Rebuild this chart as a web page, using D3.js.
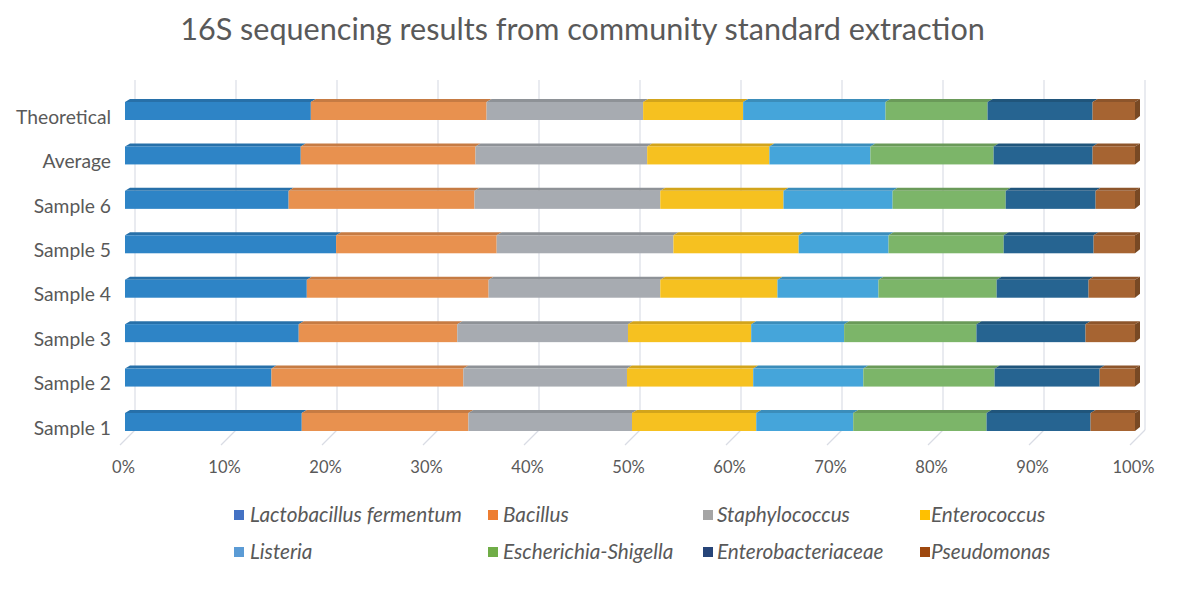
<!DOCTYPE html>
<html><head><meta charset="utf-8">
<script src="https://cdn.jsdelivr.net/npm/d3@7"></script>
<style>body{margin:0;background:#fff} svg{display:block}</style>
</head><body>
<svg id="c" width="1189" height="599"></svg>
<script>
// ---- data ----
const categories = ["Sample 1","Sample 2","Sample 3","Sample 4","Sample 5","Sample 6","Average","Theoretical"];
const seriesNames = ["Lactobacillus fermentum","Bacillus","Staphylococcus","Enterococcus","Listeria","Escherichia-Shigella","Enterobacteriaceae","Pseudomonas"];
const lactobacillus      = [17.5,14.5,17.2,18.0,20.9,16.2,17.4,18.4];
const bacillus           = [16.5,19.0,15.7,18.0,15.9,18.4,17.3,17.4];
const staphylococcus     = [16.2,16.2,16.9,17.0,17.5,18.4,17.0,15.5];
const enterococcus       = [12.3,12.5,12.2,11.6,12.4,12.2,12.1, 9.9];
const listeria           = [ 9.6,10.9, 9.2,10.0, 8.9,10.8,10.0,14.1];
const escherichia        = [13.2,13.0,13.1,11.7,11.4,11.2,12.2,10.1];
const enterobacteriaceae = [10.3,10.4,10.8, 9.1, 8.9, 8.9, 9.8,10.4];
const pseudomonas        = [ 4.4, 3.5, 4.9, 4.6, 4.1, 3.9, 4.2, 4.2];
const tickValues = [0,10,20,30,40,50,60,70,80,90,100];
const tickLabels = ["0%","10%","20%","30%","40%","50%","60%","70%","80%","90%","100%"];
const title = "16S sequencing results from community standard extraction";

// ---- styles ----
const barColors    = ["#2e84c6","#e8914f","#a7abb1","#f6c120","#45a5da","#7cb569","#266491","#a66432"];
const legendColors = ["#4472c4","#ed7d31","#a5a5a5","#ffc000","#5b9bd5","#70ad47","#264478","#9e480e"];
const textColor = "#595959";
const FONT = "Lato, 'Open Sans', sans-serif";

const seriesValues = [lactobacillus,bacillus,staphylococcus,enterococcus,listeria,escherichia,enterobacteriaceae,pseudomonas];
const rows = categories.map((c,i)=>{
  const r = {cat:c};
  seriesNames.forEach((s,j)=>{ r[s] = seriesValues[j][i]; });
  return r;
});

const svg = d3.select("#c");
svg.append("rect").attr("width",1189).attr("height",599).attr("fill","#fff");

const x = d3.scaleLinear().domain([0,100]).range([125,1135]);
const y = d3.scalePoint().domain(categories.slice().reverse()).range([109.5,420.5]);
const DX = 10, DEPTH_TOP = 80, FLOOR_BACK = 430, FLOOR_FRONT = 445;

function fit(sel, target){
  const node = sel.node();
  const fs = parseFloat(sel.attr("font-size"));
  const w = node.getComputedTextLength();
  return fs*target/w;
}

// back-wall gridlines + floor diagonals
const grid = svg.append("g");
grid.selectAll("line.v").data(tickValues).join("line").attr("class","v")
  .attr("x1",d=>x(d)+DX).attr("x2",d=>x(d)+DX)
  .attr("y1",DEPTH_TOP).attr("y2",FLOOR_BACK)
  .attr("stroke","#e2e4eb").attr("stroke-width",1.5);
grid.selectAll("line.d").data(tickValues).join("line").attr("class","d")
  .attr("x1",d=>x(d)-5).attr("y1",FLOOR_FRONT)
  .attr("x2",d=>x(d)+DX).attr("y2",FLOOR_BACK)
  .attr("stroke","#d9dce4").attr("stroke-width",1.2);

// stacked bars
const stack = d3.stack().keys(seriesNames)(rows);
const FH = 18, TH = 3, TD = 5;
const barsG = svg.append("g");
stack.forEach((layer,j)=>{
  const col = barColors[j];
  const g = barsG.append("g");
  const top = d3.color(col).darker(0.45).formatHex();
  g.selectAll("path.top").data(layer).join("path").attr("class","top")
    .attr("d",d=>{
      const yf = y(d.data.cat)-7.5, x0=x(d[0]), x1=x(d[1]);
      return `M${x0},${yf}L${x0+TD},${yf-TH}L${x1+TD},${yf-TH}L${x1},${yf}Z`;
    }).attr("fill",top);
  g.selectAll("rect").data(layer).join("rect")
    .attr("x",d=>x(d[0])).attr("y",d=>y(d.data.cat)-7.5)
    .attr("width",d=>x(d[1])-x(d[0])).attr("height",FH)
    .attr("fill",col);
  if(j===stack.length-1){
    const side = d3.color(col).darker(0.9).formatHex();
    g.selectAll("path.side").data(layer).join("path").attr("class","side")
      .attr("d",d=>{
        const yf = y(d.data.cat)-7.5, x1=x(d[1]);
        return `M${x1},${yf}L${x1+TD},${yf-TH}L${x1+TD},${yf+FH-TH-1}L${x1},${yf+FH}Z`;
      }).attr("fill",side);
  }
});

// x axis labels
const xa = svg.append("g").attr("transform","translate(-2,467)")
  .call(d3.axisBottom(x).tickValues(tickValues).tickSize(0).tickFormat((d,i)=>tickLabels[i]));
xa.select(".domain").remove();
xa.selectAll("text").attr("y",0).attr("dy","0.35em")
  .attr("fill",textColor).attr("font-family",FONT).attr("font-size",16);
{
  const last = xa.selectAll("text").filter((d,i)=>i===tickValues.length-1);
  xa.selectAll("text").attr("font-size",fit(last,42));
}

// y axis labels
const ya = svg.append("g").attr("transform","translate(111,7)")
  .call(d3.axisLeft(y).tickSize(0).tickPadding(0));
ya.select(".domain").remove();
ya.selectAll("text").attr("dy","0.35em").attr("x",0)
  .attr("fill",textColor).attr("font-family",FONT).attr("font-size",17);
{
  const t = ya.selectAll("text").filter(d=>d==="Theoretical");
  ya.selectAll("text").attr("font-size",fit(t,95));
}

// title
const tt = svg.append("text").attr("x",582.5).attr("y",40).attr("text-anchor","middle")
  .attr("fill",textColor).attr("font-family",FONT).attr("font-size",28).text(title);
tt.attr("font-size",fit(tt,805));

// legend
const colSq = [234,488,703,920], colTx = [250,503,717,931], rowY = [515,552];
const lg = svg.append("g");
const items = lg.selectAll("g").data(seriesNames).join("g")
  .attr("transform",(d,i)=>`translate(0,${rowY[Math.floor(i/4)]})`);
items.append("rect").attr("x",(d,i)=>colSq[i%4]).attr("y",-5).attr("width",10).attr("height",10)
  .attr("fill",(d,i)=>legendColors[i]);
items.append("text").attr("x",(d,i)=>colTx[i%4]).attr("dy","0.35em")
  .attr("fill",textColor).attr("font-family",FONT).attr("font-style","italic").attr("font-size",16)
  .text(d=>d);
{
  const t = items.selectAll("text").filter(d=>d==="Lactobacillus fermentum");
  items.selectAll("text").attr("font-size",fit(t,212));
}
</script>
</body></html>
